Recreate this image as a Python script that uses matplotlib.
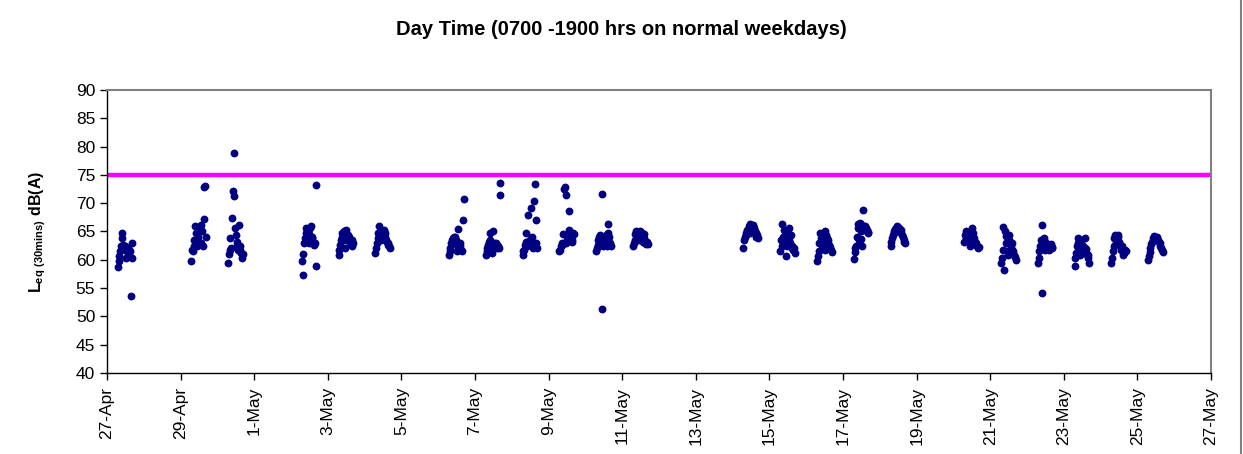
import datetime as dt
import numpy as np
import matplotlib
matplotlib.use("Agg")
import matplotlib.pyplot as plt
import matplotlib.dates as mdates

plt.rcParams['font.family'] = ['Liberation Sans', 'DejaVu Sans']
plt.rcParams['mathtext.fontset'] = 'custom'
plt.rcParams['mathtext.rm'] = 'Liberation Sans'
plt.rcParams['mathtext.bf'] = 'Liberation Sans:bold'

# measurement days (2008)
days = ['2008-04-27', '2008-04-29', '2008-04-30', '2008-05-02', '2008-05-03',
        '2008-05-04', '2008-05-06', '2008-05-07', '2008-05-08', '2008-05-09',
        '2008-05-10', '2008-05-11', '2008-05-14', '2008-05-15', '2008-05-16',
        '2008-05-17', '2008-05-18', '2008-05-20', '2008-05-21', '2008-05-22',
        '2008-05-23', '2008-05-24', '2008-05-25']

# half-hour Leq readings from 07:00, one list per day
d0427 = [58.8, 59.7, 60.6, 61.5, 62.4, 64.7, 63.8, 62.6, 62.1, 62.4, 61.8, 60.3, 61.5, 62.0, 61.2, 60.9, 61.5, 53.6, 62.9, 60.3]
d0429 = [59.8, 61.8, 61.5, 62.5, 63.5, 65.9, 64.7, 63.0, 62.5, 64.1, 63.2, 65.3, 66.2, 62.9, 65.0, 62.4, 67.2, 72.8, 73.1, 64.1]
d0430 = [59.5, 61.1, 61.8, 63.8, 62.1, 67.4, 72.1, 71.2, 78.9, 65.6, 64.4, 63.2, 62.6, 61.8, 66.2, 62.5, 61.8, 61.2, 60.3, 61.0]
d0502 = [59.8, 61.1, 57.3, 62.9, 63.8, 65.6, 64.7, 64.1, 63.5, 63.0, 64.5, 65.6, 65.9, 63.8, 64.0, 63.2, 62.6, 63.0, 58.9, 73.2]
d0503 = [60.9, 61.8, 62.6, 63.5, 64.1, 64.7, 63.5, 65.0, 64.1, 62.1, 65.3, 63.5, 64.4, 64.0, 63.8, 62.9, 63.5, 62.4, 63.5, 63.0]
d0504 = [61.2, 62.1, 62.9, 63.8, 64.7, 65.9, 65.0, 63.5, 64.1, 64.4, 63.8, 65.3, 64.8, 64.1, 63.5, 63.2, 62.9, 62.6, 62.4, 62.1]
d0506 = [60.9, 62.1, 61.5, 62.9, 63.5, 63.8, 64.1, 63.2, 64.0, 63.5, 62.6, 61.5, 65.4, 62.5, 62.9, 62.4, 61.8, 61.5, 67.1, 70.8]
d0507 = [60.9, 61.5, 62.1, 62.7, 63.2, 64.7, 63.5, 62.5, 61.2, 62.0, 65.0, 62.9, 62.4, 63.0, 62.6, 62.1, 62.5, 62.1, 71.5, 73.6]
d0508 = [60.9, 61.5, 61.8, 62.6, 63.2, 64.7, 62.5, 68.0, 63.3, 62.9, 63.5, 69.1, 64.1, 62.6, 62.1, 70.4, 73.4, 67.0, 63.0, 62.1]
d0509 = [61.5, 61.8, 62.4, 62.6, 62.9, 64.6, 72.5, 72.9, 71.4, 63.0, 63.5, 63.8, 68.7, 65.3, 64.5, 64.1, 63.2, 63.5, 64.7, 64.6]
d0510 = [61.5, 62.0, 62.6, 63.5, 64.1, 64.4, 63.8, 71.6, 51.3, 62.4, 63.5, 62.9, 63.0, 64.4, 62.4, 66.4, 64.7, 64.0, 62.9, 62.4]
d0511 = [62.5, 63.0, 63.5, 64.5, 65.0, 64.0, 63.5, 64.5, 63.8, 65.0, 64.2, 63.5, 64.8, 63.2, 63.8, 64.5, 63.0, 62.8, 63.2, 62.8]
d0514 = [62.1, 63.5, 64.1, 64.7, 64.4, 65.3, 65.0, 65.9, 64.7, 66.4, 65.8, 65.3, 66.2, 65.9, 65.6, 65.0, 64.7, 64.1, 64.4, 63.8]
d0515 = [61.6, 63.5, 62.5, 66.4, 64.0, 65.3, 64.1, 63.0, 60.6, 62.4, 64.7, 65.6, 63.5, 62.9, 64.4, 62.0, 62.4, 61.8, 62.1, 61.2]
d0516 = [59.8, 60.7, 61.5, 62.9, 64.7, 63.8, 64.3, 62.6, 63.5, 62.1, 61.8, 65.0, 64.4, 63.8, 63.5, 62.9, 62.6, 62.2, 61.8, 61.3]
d0517 = [60.1, 61.3, 62.1, 62.5, 64.1, 65.6, 66.4, 63.5, 66.5, 65.0, 63.6, 62.4, 68.8, 66.0, 65.9, 65.3, 65.6, 65.2, 64.9, 64.7]
d0518 = [62.5, 63.2, 63.8, 64.4, 64.7, 65.1, 65.4, 65.7, 65.9, 65.6, 65.3, 65.6, 65.0, 65.3, 64.8, 64.4, 64.1, 63.5, 63.2, 62.9]
d0520 = [63.1, 64.4, 65.0, 63.8, 64.6, 64.4, 63.5, 62.4, 63.0, 63.5, 65.6, 64.8, 64.1, 63.8, 63.2, 62.9, 62.6, 62.4, 62.1, 62.3]
d0521 = [59.4, 60.3, 61.8, 65.8, 58.2, 65.0, 64.2, 62.9, 61.5, 60.9, 63.5, 64.4, 63.2, 62.4, 61.8, 62.9, 61.5, 60.9, 60.5, 59.9]
d0522 = [59.4, 60.3, 61.5, 62.4, 63.5, 54.2, 66.1, 62.6, 63.8, 61.8, 63.2, 62.9, 62.0, 62.4, 61.8, 62.1, 62.6, 62.8, 62.3, 62.0]
d0523 = [58.9, 60.3, 61.2, 62.5, 63.8, 62.9, 62.1, 60.9, 62.6, 63.0, 61.8, 62.4, 61.2, 62.0, 63.8, 61.9, 61.0, 60.3, 60.8, 59.4]
d0524 = [59.4, 60.3, 61.5, 62.4, 63.8, 64.4, 63.0, 63.5, 64.1, 64.4, 63.2, 62.6, 62.0, 61.8, 62.5, 60.9, 61.5, 61.2, 61.8, 61.5]
d0525 = [59.9, 60.6, 61.3, 62.1, 62.8, 63.2, 63.8, 64.1, 64.2, 63.9, 63.8, 64.1, 63.7, 63.5, 63.1, 62.9, 62.4, 62.1, 61.8, 61.3]

daily = [d0427, d0429, d0430, d0502, d0503, d0504, d0506, d0507, d0508, d0509,
         d0510, d0511, d0514, d0515, d0516, d0517, d0518, d0520, d0521, d0522,
         d0523, d0524, d0525]

tick_days = ['2008-04-27', '2008-04-29', '2008-05-01', '2008-05-03', '2008-05-05',
             '2008-05-07', '2008-05-09', '2008-05-11', '2008-05-13', '2008-05-15',
             '2008-05-17', '2008-05-19', '2008-05-21', '2008-05-23', '2008-05-25',
             '2008-05-27']

limit = 75  # day time criterion, dB(A)

# build time stamps: 07:00 onwards in 30 min steps
times, levels = [], []
for day, vals in zip(days, daily):
    start = dt.datetime.strptime(day, '%Y-%m-%d') + dt.timedelta(hours=7)
    for i, v in enumerate(vals):
        times.append(start + dt.timedelta(minutes=30 * i))
        levels.append(v)

ticks = [dt.datetime.strptime(d, '%Y-%m-%d') for d in tick_days]

fig = plt.figure(figsize=(12.43, 4.54), dpi=100)
ax = fig.add_axes([0.0861, 0.1784, 0.8882, 0.6234])

ax.scatter(times, levels, s=32, color='#000080', zorder=3, linewidths=0)
ax.axhline(limit, color='#FF00FF', linewidth=3.2, zorder=2)

ax.set_ylim(40, 90)
ax.set_yticks(np.arange(40, 91, 5))
ax.set_xlim(ticks[0], ticks[-1])
ax.set_xticks(ticks)
ax.xaxis.set_major_formatter(mdates.DateFormatter('%-d-%b'))
plt.setp(ax.get_xticklabels(), rotation=90)

ax.tick_params(axis='both', labelsize=12.5, direction='out', length=5, width=1, color='black')
ax.tick_params(axis='x', pad=5)

for side in ['left', 'bottom']:
    ax.spines[side].set_color('black')
    ax.spines[side].set_linewidth(1)
for side in ['top', 'right']:
    ax.spines[side].set_color('#808080')
    ax.spines[side].set_linewidth(1.5)

ax.set_ylabel(r'$\mathbf{L_{eq\ (30mins)}}$ dB(A)', fontsize=11.5, fontweight='bold', labelpad=20)

fig.text(0.5, 0.936, 'Day Time (0700 -1900 hrs on normal weekdays)',
         ha='center', va='center', fontsize=14.5, fontweight='bold')

# chart border on the right
fig.add_artist(plt.Line2D([0.9985, 0.9985], [0, 1], color='#808080', linewidth=1.5,
                          transform=fig.transFigure))

fig.savefig('out.png', dpi=100)
